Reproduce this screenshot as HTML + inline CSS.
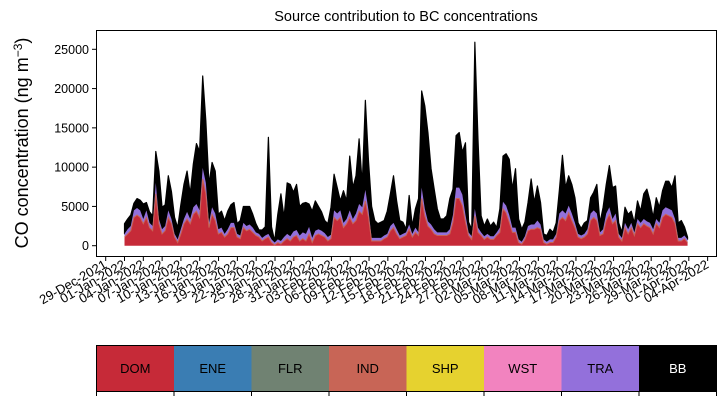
<!DOCTYPE html>
<html><head><meta charset="utf-8"><style>
html,body{margin:0;padding:0;background:#fff;}
svg{display:block;font-family:"Liberation Sans","DejaVu Sans",sans-serif;}
</style></head><body>
<svg id="chart" width="725" height="402" viewBox="0 0 725 402">
<text x="406" y="21" text-anchor="middle" font-size="14.5">Source contribution to BC concentrations</text>
<text transform="translate(28,143) rotate(-90)" text-anchor="middle" font-size="18">CO concentration (ng m<tspan dy="-6" font-size="12">−3</tspan><tspan dy="6">)</tspan></text>
<g id="plot"></g>
<g id="xaxis"></g>
<g id="yaxis"></g>
<rect x="96.5" y="30.5" width="620" height="226" fill="none" stroke="#000" stroke-width="1"/>
<g id="legend"></g>
</svg>
<script>
// data (thousands ng m-3), evenly spaced from startDay to endDay (days since 29-Dec-2021)
const startDay = 3.0;
const endDay = 92.8;
const totalVals = [2.8,3.4,3.9,5.4,6.0,5.8,5.3,5.5,4.3,3.8,12.0,9.5,4.9,5.2,8.9,6.9,3.6,2.3,5.2,7.8,9.5,6.6,10.4,13.0,12.0,21.6,15.9,7.8,10.6,9.5,4.0,4.4,3.2,4.4,5.2,5.5,2.8,3.2,5.0,5.0,5.0,4.0,2.8,2.0,
2.0,2.4,13.8,2.4,0.6,4.0,6.6,3.6,8.0,7.8,6.8,7.8,5.0,5.4,5.5,5.3,4.4,5.7,5.0,4.3,3.2,2.8,4.9,9.1,7.4,5.7,7.0,5.7,11.4,7.4,8.9,13.6,7.8,18.5,10.8,5.0,3.2,2.8,3.0,3.2,4.4,6.6,8.9,5.7,3.2,
3.0,2.1,6.4,2.5,4.7,6.0,19.7,17.8,14.4,9.8,7.2,4.7,3.4,3.4,3.8,6.0,7.2,14.0,14.4,11.9,13.1,3.0,2.1,25.9,13.6,3.8,2.5,3.4,2.5,3.0,2.3,4.7,11.4,11.7,11.0,7.2,9.8,3.4,2.1,3.0,5.5,8.5,5.5,7.6,5.5,1.5,1.3,
2.1,1.7,2.9,7.0,11.5,7.4,8.9,7.8,6.1,2.9,2.2,2.9,3.2,6.1,6.8,7.8,2.9,4.9,7.8,10.2,7.4,7.6,2.9,1.7,4.9,4.0,4.4,2.9,5.7,4.4,6.6,7.2,5.7,3.6,6.1,4.9,7.0,8.2,8.2,7.4,8.9,2.9,3.2,2.4,1.1];
const domVals = [1.1,1.5,1.9,3.6,3.9,3.6,2.8,3.6,2.3,1.9,6.6,2.8,1.5,1.9,3.6,2.8,1.1,0.4,1.5,2.8,3.4,2.8,4.0,4.4,3.6,8.5,6.6,2.3,4.0,3.2,1.5,1.7,1.1,1.5,2.3,2.3,1.1,0.9,2.3,1.9,2.1,1.7,1.3,1.1,
0.6,0.9,1.1,0.4,0.1,0.4,0.2,0.6,0.9,0.6,1.1,1.3,0.6,0.9,0.6,1.5,0.4,1.3,1.5,1.3,1.1,0.6,0.9,3.6,3.2,3.6,2.3,2.8,3.6,2.8,3.2,4.4,4.0,5.7,3.6,0.6,0.6,0.6,0.6,0.9,1.1,1.9,2.3,1.5,0.9,
1.1,1.3,2.1,1.1,1.7,1.3,6.0,3.8,2.5,2.1,1.5,1.3,1.3,1.3,1.3,1.5,3.0,6.0,6.0,5.1,3.0,1.3,0.8,3.8,1.7,1.3,0.8,1.1,0.8,0.8,1.3,1.7,4.7,4.2,3.0,1.7,1.7,0.4,0.2,0.8,1.9,2.1,2.1,2.3,2.1,0.4,0.2,
0.4,0.4,1.1,3.2,3.6,3.2,4.2,3.2,2.3,1.1,0.9,1.1,1.5,3.2,3.6,3.2,1.3,1.5,3.2,4.0,2.8,3.2,1.1,0.6,2.3,1.5,2.3,1.3,2.8,2.3,2.8,2.5,2.3,1.5,2.8,2.3,3.6,4.0,3.8,3.6,2.8,0.6,0.6,0.9,0.4];
const traVals = [0.4,0.6,0.6,0.9,0.9,0.9,0.6,0.9,0.6,0.6,1.4,0.6,0.6,0.6,0.9,0.6,0.4,0.4,0.6,0.6,0.9,0.6,0.9,0.9,0.9,1.4,1.4,0.6,0.9,0.9,0.6,0.6,0.4,0.6,0.6,0.6,0.4,0.4,0.6,0.6,0.6,0.6,0.4,0.4,
0.4,0.4,0.4,0.4,0.3,0.4,0.4,0.5,0.6,0.6,0.7,0.7,0.7,0.8,0.9,0.9,0.6,0.6,0.6,0.6,0.5,0.5,0.5,0.9,0.9,0.9,0.6,0.6,0.9,0.6,0.9,0.9,0.9,1.4,0.9,0.4,0.4,0.4,0.4,0.4,0.4,0.6,0.6,0.6,0.4,
0.4,0.4,0.6,0.4,0.6,0.4,1.4,0.9,0.6,0.6,0.6,0.4,0.4,0.4,0.4,0.6,0.9,1.4,1.4,1.4,0.9,0.4,0.4,0.9,0.6,0.4,0.4,0.4,0.4,0.4,0.4,0.6,0.9,0.9,0.9,0.6,0.6,0.4,0.3,0.4,0.6,0.6,0.6,0.9,0.6,0.4,0.3,
0.4,0.4,0.4,0.9,0.9,0.9,0.9,0.9,0.6,0.4,0.4,0.4,0.6,0.9,0.9,0.9,0.4,0.6,0.9,0.9,0.6,0.9,0.4,0.4,0.6,0.6,0.6,0.4,0.6,0.6,0.6,0.6,0.6,0.6,0.6,0.6,0.9,0.9,0.9,0.9,0.6,0.4,0.4,0.4,0.4];
const yTicks = [0,5000,10000,15000,20000,25000];
const xTickLabels = ["29-Dec-2021","01-Jan-2022","04-Jan-2022","07-Jan-2022","10-Jan-2022","13-Jan-2022","16-Jan-2022","19-Jan-2022","22-Jan-2022","25-Jan-2022","28-Jan-2022","31-Jan-2022","03-Feb-2022","06-Feb-2022","09-Feb-2022","12-Feb-2022","15-Feb-2022","18-Feb-2022","21-Feb-2022","24-Feb-2022","27-Feb-2022","02-Mar-2022","05-Mar-2022","08-Mar-2022","11-Mar-2022","14-Mar-2022","17-Mar-2022","20-Mar-2022","23-Mar-2022","26-Mar-2022","29-Mar-2022","01-Apr-2022","04-Apr-2022"];
const sources = ["DOM","ENE","FLR","IND","SHP","WST","TRA","BB"];
const sourceColors = ["#c62a38","#3a7db3","#708272","#c86556","#e6d22f","#f283bf","#9370db","#000000"];

const NS = "http://www.w3.org/2000/svg";
function mk(tag, attrs, parent){const e=document.createElementNS(NS,tag);for(const k in attrs)e.setAttribute(k,attrs[k]);parent.appendChild(e);return e;}
const xDay = d => 105.7 + d*6.27;
const yVal = v => 245.7 - v*0.007856;
const N = totalVals.length;
const dayAt = i => startDay + (endDay-startDay)*i/(N-1);

const plot = document.getElementById('plot');
function areaPath(lower, upper){
  let p = "M";
  for(let i=0;i<N;i++) p += xDay(dayAt(i)).toFixed(2)+","+yVal(upper[i]*1000).toFixed(2)+" L";
  for(let i=N-1;i>=0;i--) p += xDay(dayAt(i)).toFixed(2)+","+yVal(lower[i]*1000).toFixed(2)+(i>0?" L":" Z");
  return p;
}
const zero = totalVals.map(()=>0);
const domTop = domVals.slice();
const traTop = domVals.map((v,i)=>v+traVals[i]);
const bbTop = totalVals.map((v,i)=>Math.max(v,traTop[i]));
const bbArea = mk('path',{d:areaPath(traTop,bbTop),fill:'#000',stroke:'#000','stroke-width':'1.2','stroke-linejoin':'round'},plot);


const traArea = mk('path',{d:areaPath(domTop,traTop),fill:'#9370db'},plot);


const domArea = mk('path',{d:areaPath(zero,domTop),fill:'#c62a38'},plot);


let topLine = "M";
for(let i=0;i<N;i++) topLine += xDay(dayAt(i)).toFixed(2)+","+yVal(domTop[i]*1000).toFixed(2)+(i<N-1?" L":"");
const domEdge = mk('path',{d:topLine,fill:'none',stroke:'#c86556','stroke-width':'1'},plot);



const yaxis = document.getElementById('yaxis');
yTicks.forEach(v=>{
  const y = yVal(v);
  mk('line',{x1:92,x2:96.5,y1:y,y2:y,stroke:'#000','stroke-width':1},yaxis);
  const t = mk('text',{x:89,y:y+4.5,'text-anchor':'end','font-size':'12.5'},yaxis);
  t.textContent = String(v);
  
  
});
const xaxis = document.getElementById('xaxis');
xTickLabels.forEach((lab,i)=>{
  const x = xDay(i*3);
  mk('line',{x1:x,x2:x,y1:256.5,y2:261,stroke:'#000','stroke-width':1},xaxis);
  const t = mk('text',{transform:`translate(${x+2},${267}) rotate(-30)`,'text-anchor':'end','font-size':'13'},xaxis);
  t.textContent = lab;
  
  
});

const legend = document.getElementById('legend');
const lw = 620/sources.length;
sources.forEach((s,i)=>{
  const x = 96.5 + i*lw;
  const r = mk('rect',{x:x,y:345.5,width:lw,height:46,fill:sourceColors[i]},legend);
  
  
  const t = mk('text',{x:x+lw/2,y:373,'text-anchor':'middle','font-size':'13',fill:s==='BB'?'#fff':'#000'},legend);
  t.textContent = s;
  
  
});
mk('rect',{x:96.5,y:345.5,width:620,height:46,fill:'none',stroke:'#000','stroke-width':1},legend);
for(let i=0;i<=sources.length;i++){
  const x = 96.5 + i*lw;
  mk('line',{x1:x,x2:x,y1:391.5,y2:396,stroke:'#000','stroke-width':1},legend);
}
</script>
</body></html>
